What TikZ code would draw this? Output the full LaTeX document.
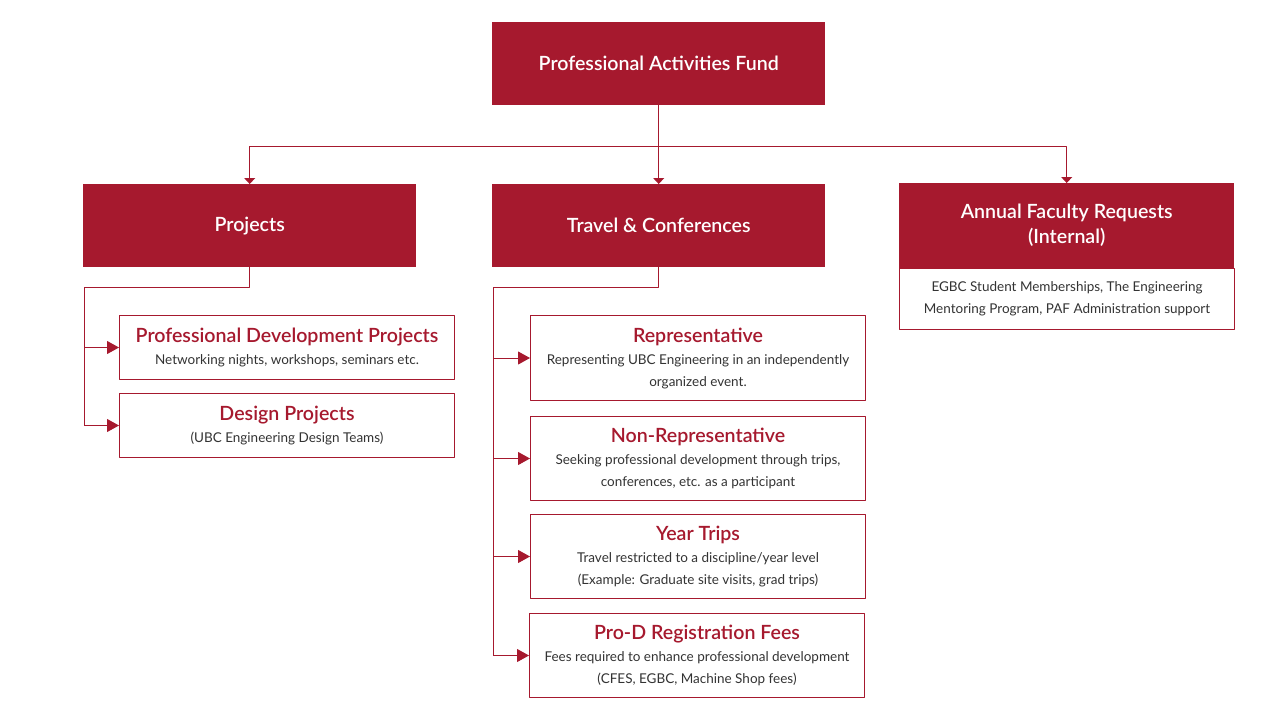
\documentclass[tikz,border=0pt]{standalone}
\usepackage{fontspec}
\setmainfont{Lato}
\newfontfamily\semifont{Lato}[UprightFont=* Semibold]
\usetikzlibrary{arrows.meta,positioning}
\definecolor{ubcred}{HTML}{A6192E}
\definecolor{bodygray}{HTML}{333333}
\newcommand{\boxtitle}[1]{{\color{ubcred}\semifont\fontsize{19.6}{22}\selectfont #1}}
\begin{document}
\begin{tikzpicture}[x=1pt, y=-1pt, line join=round,
  topbox/.style={fill=ubcred, text=white, minimum width=333pt, minimum height=83pt,
    anchor=north west, inner sep=0pt, align=center, font=\semifont\fontsize{19.6}{25}\selectfont},
  subbox/.style={draw=ubcred, line width=1pt, fill=white, text=bodygray, minimum width=335pt,
    anchor=north west, inner sep=0pt, align=center, font=\fontsize{13.5}{22}\selectfont},
  link/.style={draw=ubcred, line width=1pt},
  bigtip/.style={link, -{Triangle[length=12pt,width=13pt]}},
  smalltip/.style={link, -{Triangle[length=6pt,width=11pt]}}]
\useasboundingbox (0,0) rectangle (1280,720);
% top level
\node[topbox] (paf) at (492,22) {Professional Activities Fund};
\node[topbox] (projects) at (83,184) {Projects};
\node[topbox] (travel) at (492,184) {Travel \& Conferences};
\node[topbox, minimum width=335pt, minimum height=85pt] (annual) at (899,183)
  {Annual Faculty Requests\\(Internal)};
\node[subbox, minimum height=61pt] (annualtext) at (899,268)
  {EGBC Student Memberships, The Engineering\\Mentoring Program, PAF Administration support};
% projects
\node[subbox, minimum height=64pt] (pdp) at (119,315)
  {\boxtitle{Professional Development Projects}\\Networking nights, workshops, seminars etc.};
\node[subbox, minimum height=64pt] (design) at (119,393)
  {\boxtitle{Design Projects}\\(UBC Engineering Design Teams)};
% travel
\node[subbox, minimum height=85pt] (rep) at (530,315)
  {\boxtitle{Representative}\\Representing UBC Engineering in an independently\\organized event.};
\node[subbox, minimum height=84pt] (nonrep) at (530,416)
  {\boxtitle{Non-Representative}\\Seeking professional development through trips,\\conferences, etc. as a participant};
\node[subbox, minimum height=84pt] (year) at (530,514)
  {\boxtitle{Year Trips}\\Travel restricted to a discipline/year level\\(Example: Graduate site visits, grad trips)};
\node[subbox, minimum height=84pt] (prod) at (529,613)
  {\boxtitle{Pro-D Registration Fees}\\Fees required to enhance professional development\\(CFES, EGBC, Machine Shop fees)};
% connectors
\coordinate (bus) at (0,146);
\draw[smalltip] (paf.south) -- (travel.north);
\draw[smalltip] (paf.south |- bus) -| (projects.north);
\draw[smalltip] (paf.south |- bus) -| (annual.north);
\coordinate (pjrail) at (84,287);
\draw[link] (projects.south) |- (pjrail) -- (pjrail |- design.west);
\foreach \b in {pdp,design} \draw[bigtip] (pjrail |- \b.west) -- (\b.west);
\coordinate (tvrail) at (493,287);
\draw[link] (travel.south) |- (tvrail) -- (tvrail |- prod.west);
\foreach \b in {rep,nonrep,year,prod} \draw[bigtip] (tvrail |- \b.west) -- (\b.west);
\end{tikzpicture}
\end{document}
